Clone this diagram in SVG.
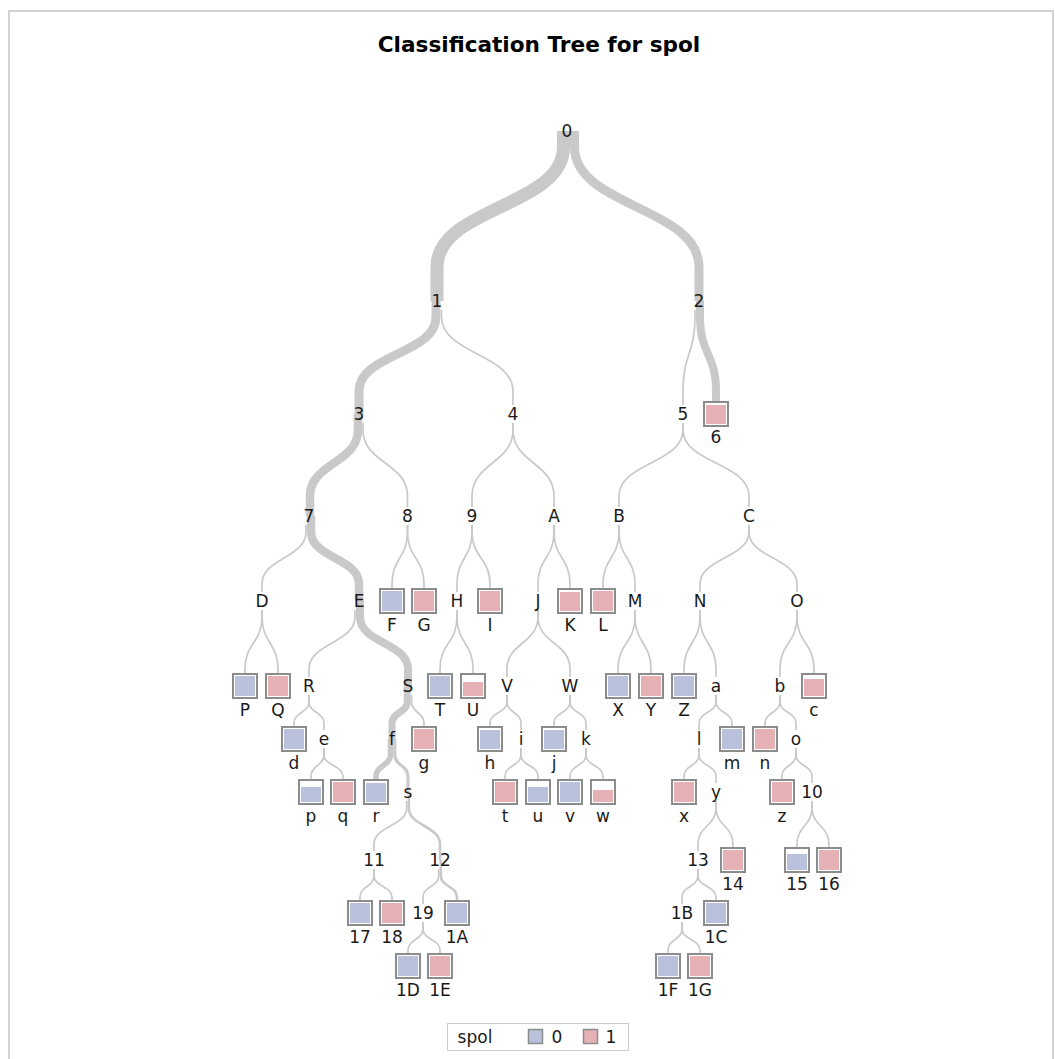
<svg xmlns="http://www.w3.org/2000/svg" width="1055" height="1059" viewBox="0 0 1055 1059">
<style>
.e{fill:none;stroke:#c9c9c9;stroke-width:1.7}
.t{font-family:"DejaVu Sans",sans-serif;font-size:17px;fill:#1a1a1a;text-anchor:middle}
.bx{fill:#fff;stroke:#8c8c8c;stroke-width:2}
.b0{fill:#b9c1dc}
.b1{fill:#e6b1b5}
.title{font-family:"DejaVu Sans",sans-serif;font-size:21.6px;font-weight:bold;fill:#000;text-anchor:middle}
</style>
<rect x="9" y="11" width="1044" height="1060" fill="#fff" stroke="#d4d4d4" stroke-width="2"/>
<text class="title" x="539" y="52">Classification Tree for spol</text>
<g id="connectors">
<path class="e" style="stroke-width:13" d="M563.5 131 V147 C563.5 207 437 207 437 267 V301"/>
<path class="e" style="stroke-width:9" d="M574.5 131 V147 C574.5 207 699 207 699 267 V301"/>
<path class="e" style="stroke-width:9" d="M436 301 V317 C436 354 359 354 359 391 V414"/>
<path class="e" d="M441.5 310 V317 C441.5 354 513 354 513 391 V405"/>
<path class="e" d="M695 310 V317 C695 354 683 354 683 391 V405"/>
<path class="e" style="stroke-width:8" d="M700 301 V317 C700 354 716 354 716 391 V401"/>
<path class="e" style="stroke-width:8.5" d="M358 414 V430 C358 463 310 463 310 496 V516"/>
<path class="e" d="M363 423 V430 C363 463 407.5 463 407.5 496 V507"/>
<path class="e" d="M513 423 V430 C513 463 472 463 472 496 V507"/>
<path class="e" d="M513 423 V430 C513 463 554 463 554 496 V507"/>
<path class="e" d="M683 423 V430 C683 463 619 463 619 496 V507"/>
<path class="e" d="M683 423 V430 C683 463 749 463 749 496 V507"/>
<path class="e" d="M306 525 V532 C306 558 262 558 262 584 V592"/>
<path class="e" style="stroke-width:8.5" d="M311 516 V532 C311 558 359 558 359 584 V601"/>
<path class="e" d="M407.5 525 V532 C407.5 558 392 558 392 584 V588"/>
<path class="e" d="M407.5 525 V532 C407.5 558 424 558 424 584 V588"/>
<path class="e" d="M472 525 V532 C472 558 457 558 457 584 V592"/>
<path class="e" d="M472 525 V532 C472 558 490 558 490 584 V588"/>
<path class="e" d="M554 525 V532 C554 558 538 558 538 584 V592"/>
<path class="e" d="M554 525 V532 C554 558 570 558 570 584 V588"/>
<path class="e" d="M619 525 V532 C619 558 603 558 603 584 V588"/>
<path class="e" d="M619 525 V532 C619 558 635 558 635 584 V592"/>
<path class="e" d="M749 525 V532 C749 558 700 558 700 584 V592"/>
<path class="e" d="M749 525 V532 C749 558 797 558 797 584 V592"/>
<path class="e" d="M262 610 V617 C262 643 245 643 245 669 V673"/>
<path class="e" d="M262 610 V617 C262 643 278 643 278 669 V673"/>
<path class="e" d="M355 610 V617 C355 643 309 643 309 669 V677"/>
<path class="e" style="stroke-width:8" d="M360 601 V617 C360 643 408 643 408 669 V686"/>
<path class="e" d="M457 610 V617 C457 643 440 643 440 669 V673"/>
<path class="e" d="M457 610 V617 C457 643 473 643 473 669 V673"/>
<path class="e" d="M538 610 V617 C538 643 507 643 507 669 V677"/>
<path class="e" d="M538 610 V617 C538 643 570 643 570 669 V677"/>
<path class="e" d="M635 610 V617 C635 643 618 643 618 669 V673"/>
<path class="e" d="M635 610 V617 C635 643 651 643 651 669 V673"/>
<path class="e" d="M700 610 V617 C700 643 684 643 684 669 V673"/>
<path class="e" d="M700 610 V617 C700 643 716 643 716 669 V677"/>
<path class="e" d="M797 610 V617 C797 643 780 643 780 669 V677"/>
<path class="e" d="M797 610 V617 C797 643 814 643 814 669 V673"/>
<path class="e" d="M309 695 V702 C309 712.5 294 712.5 294 723 V726"/>
<path class="e" d="M309 695 V702 C309 712.5 324 712.5 324 723 V730"/>
<path class="e" style="stroke-width:7" d="M407.2 686 V702 C407.2 712.5 392 712.5 392 723 V739"/>
<path class="e" d="M411.5 695 V702 C411.5 712.5 424 712.5 424 723 V726"/>
<path class="e" d="M507 695 V702 C507 712.5 490 712.5 490 723 V726"/>
<path class="e" d="M507 695 V702 C507 712.5 521 712.5 521 723 V730"/>
<path class="e" d="M570 695 V702 C570 712.5 554 712.5 554 723 V726"/>
<path class="e" d="M570 695 V702 C570 712.5 586 712.5 586 723 V730"/>
<path class="e" d="M716 695 V702 C716 712.5 699 712.5 699 723 V730"/>
<path class="e" d="M716 695 V702 C716 712.5 732 712.5 732 723 V726"/>
<path class="e" d="M780 695 V702 C780 712.5 765 712.5 765 723 V726"/>
<path class="e" d="M780 695 V702 C780 712.5 796 712.5 796 723 V730"/>
<path class="e" d="M324 748 V755 C324 765.5 311 765.5 311 776 V779"/>
<path class="e" d="M324 748 V755 C324 765.5 343 765.5 343 776 V779"/>
<path class="e" style="stroke-width:5.5" d="M390.5 739 V755 C390.5 765.5 376 765.5 376 776 V779"/>
<path class="e" style="stroke-width:3" d="M394.8 739 V755 C394.8 765.5 408 765.5 408 776 V792"/>
<path class="e" d="M521 748 V755 C521 765.5 505 765.5 505 776 V779"/>
<path class="e" d="M521 748 V755 C521 765.5 538 765.5 538 776 V779"/>
<path class="e" d="M586 748 V755 C586 765.5 570 765.5 570 776 V779"/>
<path class="e" d="M586 748 V755 C586 765.5 603 765.5 603 776 V779"/>
<path class="e" d="M699 748 V755 C699 765.5 684 765.5 684 776 V779"/>
<path class="e" d="M699 748 V755 C699 765.5 716 765.5 716 776 V783"/>
<path class="e" d="M796 748 V755 C796 765.5 782 765.5 782 776 V779"/>
<path class="e" d="M796 748 V755 C796 765.5 812 765.5 812 776 V783"/>
<path class="e" d="M406.7 801 V808 C406.7 826 374 826 374 844 V851"/>
<path class="e" style="stroke-width:2.6" d="M408.8 795 V808 C408.8 826 440 826 440 844 V860"/>
<path class="e" d="M716 801 V808 C716 826 698 826 698 844 V851"/>
<path class="e" d="M716 801 V808 C716 826 733 826 733 844 V847"/>
<path class="e" d="M812 801 V808 C812 826 797 826 797 844 V847"/>
<path class="e" d="M812 801 V808 C812 826 829 826 829 844 V847"/>
<path class="e" d="M374 869 V876 C374 886.5 360 886.5 360 897 V900"/>
<path class="e" d="M374 869 V876 C374 886.5 392 886.5 392 897 V900"/>
<path class="e" d="M438.7 869 V876 C438.7 886.5 423 886.5 423 897 V904"/>
<path class="e" style="stroke-width:2.6" d="M440.8 860 V876 C440.8 886.5 457 886.5 457 897 V900"/>
<path class="e" d="M698 869 V876 C698 886.5 682 886.5 682 897 V904"/>
<path class="e" d="M698 869 V876 C698 886.5 716 886.5 716 897 V900"/>
<path class="e" d="M423 922 V929 C423 939.5 408 939.5 408 950 V953"/>
<path class="e" d="M423 922 V929 C423 939.5 440 939.5 440 950 V953"/>
<path class="e" d="M682 922 V929 C682 939.5 668 939.5 668 950 V953"/>
<path class="e" d="M682 922 V929 C682 939.5 700 939.5 700 950 V953"/>
</g>
<g id="n0"><text class="t" x="567" y="137">0</text></g>
<g id="n1"><text class="t" x="437" y="307">1</text></g>
<g id="n2"><text class="t" x="699" y="307">2</text></g>
<g id="n3"><text class="t" x="359" y="420">3</text></g>
<g id="n4"><text class="t" x="513" y="420">4</text></g>
<g id="n5"><text class="t" x="683" y="420">5</text></g>
<g id="n6"><rect class="bx" x="704" y="402" width="24" height="24"/><rect class="b1" x="706" y="405" width="20" height="19"/><text class="t" x="716" y="443">6</text></g>
<g id="n7"><text class="t" x="309" y="522">7</text></g>
<g id="n8"><text class="t" x="407.5" y="522">8</text></g>
<g id="n9"><text class="t" x="472" y="522">9</text></g>
<g id="nA"><text class="t" x="554" y="522">A</text></g>
<g id="nB"><text class="t" x="619" y="522">B</text></g>
<g id="nC"><text class="t" x="749" y="522">C</text></g>
<g id="nD"><text class="t" x="262" y="607">D</text></g>
<g id="nE"><text class="t" x="359" y="607">E</text></g>
<g id="nF"><rect class="bx" x="380" y="589" width="24" height="24"/><rect class="b0" x="382" y="591" width="20" height="20"/><text class="t" x="392" y="631">F</text></g>
<g id="nG"><rect class="bx" x="412" y="589" width="24" height="24"/><rect class="b1" x="414" y="591" width="20" height="20"/><text class="t" x="424" y="631">G</text></g>
<g id="nH"><text class="t" x="457" y="607">H</text></g>
<g id="nI"><rect class="bx" x="478" y="589" width="24" height="24"/><rect class="b1" x="480" y="591" width="20" height="20"/><text class="t" x="490" y="631">I</text></g>
<g id="nJ"><text class="t" x="538" y="607">J</text></g>
<g id="nK"><rect class="bx" x="558" y="589" width="24" height="24"/><rect class="b1" x="560" y="592" width="20" height="19"/><text class="t" x="570" y="631">K</text></g>
<g id="nL"><rect class="bx" x="591" y="589" width="24" height="24"/><rect class="b1" x="593" y="591" width="20" height="20"/><text class="t" x="603" y="631">L</text></g>
<g id="nM"><text class="t" x="635" y="607">M</text></g>
<g id="nN"><text class="t" x="700" y="607">N</text></g>
<g id="nO"><text class="t" x="797" y="607">O</text></g>
<g id="nP"><rect class="bx" x="233" y="674" width="24" height="24"/><rect class="b0" x="235" y="676" width="20" height="20"/><text class="t" x="245" y="716">P</text></g>
<g id="nQ"><rect class="bx" x="266" y="674" width="24" height="24"/><rect class="b1" x="268" y="676" width="20" height="20"/><text class="t" x="278" y="716">Q</text></g>
<g id="nR"><text class="t" x="309" y="692">R</text></g>
<g id="nS"><text class="t" x="408" y="692">S</text></g>
<g id="nT"><rect class="bx" x="428" y="674" width="24" height="24"/><rect class="b0" x="430" y="676" width="20" height="20"/><text class="t" x="440" y="716">T</text></g>
<g id="nU"><rect class="bx" x="461" y="674" width="24" height="24"/><rect class="b1" x="463" y="682" width="20" height="14"/><text class="t" x="473" y="716">U</text></g>
<g id="nV"><text class="t" x="507" y="692">V</text></g>
<g id="nW"><text class="t" x="570" y="692">W</text></g>
<g id="nX"><rect class="bx" x="606" y="674" width="24" height="24"/><rect class="b0" x="608" y="676" width="20" height="20"/><text class="t" x="618" y="716">X</text></g>
<g id="nY"><rect class="bx" x="639" y="674" width="24" height="24"/><rect class="b1" x="641" y="676" width="20" height="20"/><text class="t" x="651" y="716">Y</text></g>
<g id="nZ"><rect class="bx" x="672" y="674" width="24" height="24"/><rect class="b0" x="674" y="676" width="20" height="20"/><text class="t" x="684" y="716">Z</text></g>
<g id="na"><text class="t" x="716" y="692">a</text></g>
<g id="nb"><text class="t" x="780" y="692">b</text></g>
<g id="nc"><rect class="bx" x="802" y="674" width="24" height="24"/><rect class="b1" x="804" y="679" width="20" height="17"/><text class="t" x="814" y="716">c</text></g>
<g id="nd"><rect class="bx" x="282" y="727" width="24" height="24"/><rect class="b0" x="284" y="729" width="20" height="20"/><text class="t" x="294" y="769">d</text></g>
<g id="ne"><text class="t" x="324" y="745">e</text></g>
<g id="nf"><text class="t" x="392" y="745">f</text></g>
<g id="ng"><rect class="bx" x="412" y="727" width="24" height="24"/><rect class="b1" x="414" y="729" width="20" height="20"/><text class="t" x="424" y="769">g</text></g>
<g id="nh"><rect class="bx" x="478" y="727" width="24" height="24"/><rect class="b0" x="480" y="730" width="20" height="19"/><text class="t" x="490" y="769">h</text></g>
<g id="ni"><text class="t" x="521" y="745">i</text></g>
<g id="nj"><rect class="bx" x="542" y="727" width="24" height="24"/><rect class="b0" x="544" y="730" width="20" height="19"/><text class="t" x="554" y="769">j</text></g>
<g id="nk"><text class="t" x="586" y="745">k</text></g>
<g id="nl"><text class="t" x="699" y="745">l</text></g>
<g id="nm"><rect class="bx" x="720" y="727" width="24" height="24"/><rect class="b0" x="722" y="729" width="20" height="20"/><text class="t" x="732" y="769">m</text></g>
<g id="nn"><rect class="bx" x="753" y="727" width="24" height="24"/><rect class="b1" x="755" y="729" width="20" height="20"/><text class="t" x="765" y="769">n</text></g>
<g id="no"><text class="t" x="796" y="745">o</text></g>
<g id="np"><rect class="bx" x="299" y="780" width="24" height="24"/><rect class="b0" x="301" y="787" width="20" height="15"/><text class="t" x="311" y="822">p</text></g>
<g id="nq"><rect class="bx" x="331" y="780" width="24" height="24"/><rect class="b1" x="333" y="782" width="20" height="20"/><text class="t" x="343" y="822">q</text></g>
<g id="nr"><rect class="bx" x="364" y="780" width="24" height="24"/><rect class="b0" x="366" y="783" width="20" height="19"/><text class="t" x="376" y="822">r</text></g>
<g id="ns"><text class="t" x="408" y="798">s</text></g>
<g id="nt"><rect class="bx" x="493" y="780" width="24" height="24"/><rect class="b1" x="495" y="782" width="20" height="20"/><text class="t" x="505" y="822">t</text></g>
<g id="nu"><rect class="bx" x="526" y="780" width="24" height="24"/><rect class="b0" x="528" y="787" width="20" height="15"/><text class="t" x="538" y="822">u</text></g>
<g id="nv"><rect class="bx" x="558" y="780" width="24" height="24"/><rect class="b0" x="560" y="782" width="20" height="20"/><text class="t" x="570" y="822">v</text></g>
<g id="nw"><rect class="bx" x="591" y="780" width="24" height="24"/><rect class="b1" x="593" y="790" width="20" height="12"/><text class="t" x="603" y="822">w</text></g>
<g id="nx"><rect class="bx" x="672" y="780" width="24" height="24"/><rect class="b1" x="674" y="782" width="20" height="20"/><text class="t" x="684" y="822">x</text></g>
<g id="ny"><text class="t" x="716" y="798">y</text></g>
<g id="nz"><rect class="bx" x="770" y="780" width="24" height="24"/><rect class="b1" x="772" y="782" width="20" height="20"/><text class="t" x="782" y="822">z</text></g>
<g id="n10"><text class="t" x="812" y="798">10</text></g>
<g id="n11"><text class="t" x="374" y="866">11</text></g>
<g id="n12"><text class="t" x="440" y="866">12</text></g>
<g id="n13"><text class="t" x="698" y="866">13</text></g>
<g id="n14"><rect class="bx" x="721" y="848" width="24" height="24"/><rect class="b1" x="723" y="850" width="20" height="20"/><text class="t" x="733" y="890">14</text></g>
<g id="n15"><rect class="bx" x="785" y="848" width="24" height="24"/><rect class="b0" x="787" y="854" width="20" height="16"/><text class="t" x="797" y="890">15</text></g>
<g id="n16"><rect class="bx" x="817" y="848" width="24" height="24"/><rect class="b1" x="819" y="850" width="20" height="20"/><text class="t" x="829" y="890">16</text></g>
<g id="n17"><rect class="bx" x="348" y="901" width="24" height="24"/><rect class="b0" x="350" y="903" width="20" height="20"/><text class="t" x="360" y="943">17</text></g>
<g id="n18"><rect class="bx" x="380" y="901" width="24" height="24"/><rect class="b1" x="382" y="903" width="20" height="20"/><text class="t" x="392" y="943">18</text></g>
<g id="n19"><text class="t" x="423" y="919">19</text></g>
<g id="n1A"><rect class="bx" x="445" y="901" width="24" height="24"/><rect class="b0" x="447" y="903" width="20" height="20"/><text class="t" x="457" y="943">1A</text></g>
<g id="n1B"><text class="t" x="682" y="919">1B</text></g>
<g id="n1C"><rect class="bx" x="704" y="901" width="24" height="24"/><rect class="b0" x="706" y="903" width="20" height="20"/><text class="t" x="716" y="943">1C</text></g>
<g id="n1D"><rect class="bx" x="396" y="954" width="24" height="24"/><rect class="b0" x="398" y="956" width="20" height="20"/><text class="t" x="408" y="996">1D</text></g>
<g id="n1E"><rect class="bx" x="428" y="954" width="24" height="24"/><rect class="b1" x="430" y="956" width="20" height="20"/><text class="t" x="440" y="996">1E</text></g>
<g id="n1F"><rect class="bx" x="656" y="954" width="24" height="24"/><rect class="b0" x="658" y="956" width="20" height="20"/><text class="t" x="668" y="996">1F</text></g>
<g id="n1G"><rect class="bx" x="688" y="954" width="24" height="24"/><rect class="b1" x="690" y="956" width="20" height="20"/><text class="t" x="700" y="996">1G</text></g>
<g id="legend">
<rect x="447.5" y="1023.5" width="181" height="27" fill="#fff" stroke="#cccccc" stroke-width="1"/>
<text class="t" x="475" y="1043">spol</text>
<rect x="528.5" y="1029.5" width="14" height="14" fill="#b9c1dc" stroke="#8c8c8c" stroke-width="1.5"/>
<text class="t" x="557" y="1043">0</text>
<rect x="583.5" y="1029.5" width="14" height="14" fill="#e6b1b5" stroke="#8c8c8c" stroke-width="1.5"/>
<text class="t" x="611" y="1043">1</text>
</g>
</svg>
